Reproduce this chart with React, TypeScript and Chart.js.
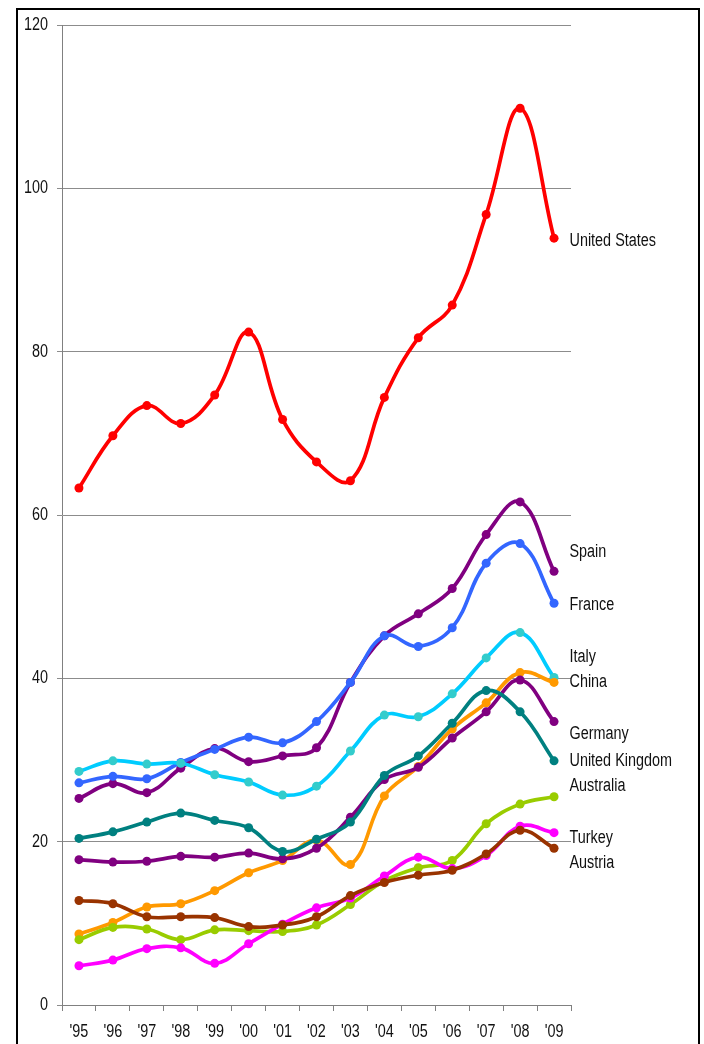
import React, { useEffect, useRef } from "react";
import { Chart, registerables } from "chart.js";

Chart.register(...registerables);

const years = ["'95", "'96", "'97", "'98", "'99", "'00", "'01", "'02", "'03", "'04", "'05", "'06", "'07", "'08", "'09"];

const unitedStates = [63.3, 69.7, 73.4, 71.2, 74.7, 82.4, 71.7, 66.5, 64.2, 74.4, 81.7, 85.7, 96.8, 109.8, 93.9];
const spain = [25.3, 27.1, 26.0, 29.0, 31.4, 29.8, 30.5, 31.5, 39.5, 45.2, 47.9, 51.0, 57.6, 61.6, 53.1];
const france = [27.2, 28.0, 27.7, 29.7, 31.3, 32.8, 32.1, 34.7, 39.5, 45.2, 43.9, 46.2, 54.1, 56.5, 49.2];
const italy = [28.6, 29.9, 29.5, 29.6, 28.2, 27.3, 25.7, 26.8, 31.1, 35.5, 35.3, 38.1, 42.5, 45.6, 40.1];
const china = [8.7, 10.1, 12.0, 12.4, 14.0, 16.2, 17.7, 20.2, 17.2, 25.6, 29.2, 33.8, 37.0, 40.7, 39.5];
const germany = [17.8, 17.5, 17.6, 18.2, 18.1, 18.6, 17.9, 19.2, 23.0, 27.6, 29.1, 32.7, 35.9, 39.8, 34.7];
const unitedKingdom = [20.4, 21.2, 22.4, 23.5, 22.6, 21.7, 18.8, 20.3, 22.4, 28.1, 30.5, 34.5, 38.5, 35.9, 29.9];
const australia = [8.0, 9.5, 9.3, 8.0, 9.2, 9.1, 9.0, 9.8, 12.3, 15.2, 16.8, 17.7, 22.2, 24.6, 25.5];
const turkey = [4.8, 5.5, 6.9, 7.0, 5.1, 7.5, 9.9, 11.9, 13.1, 15.8, 18.1, 16.7, 18.3, 21.9, 21.1];
const austria = [12.8, 12.4, 10.8, 10.8, 10.7, 9.6, 9.8, 10.8, 13.4, 15.0, 15.9, 16.5, 18.5, 21.4, 19.2];

const seriesNames = ["United States", "Spain", "France", "Italy", "China", "Germany", "United Kingdom", "Australia", "Turkey", "Austria"];
const seriesValues = [unitedStates, spain, france, italy, china, germany, unitedKingdom, australia, turkey, austria];
const lineColors = ["#FF0000", "#800080", "#3366FF", "#00CCFF", "#FF9900", "#800080", "#008080", "#99CC00", "#FF00FF", "#993300"];
const markerColors = ["#FF0000", "#800080", "#3366FF", "#33CCCC", "#FF9900", "#800080", "#008080", "#99CC00", "#FF00FF", "#993300"];
// vertical anchor (in value units) of each end label
const labelAnchors = [93.6, 55.5, 49.0, 42.6, 39.6, 33.2, 29.9, 26.8, 20.5, 17.4];

const FONT = '"Liberation Sans", Arial, sans-serif';
const FONT_SIZE = 18;
const CONDENSE = 0.8;
const TEXT_COLOR = "#111111";

function drawNarrow(ctx: CanvasRenderingContext2D, text: string, x: number, y: number, align: CanvasTextAlign) {
  ctx.save();
  ctx.translate(x, y);
  ctx.scale(CONDENSE, 1);
  ctx.font = `${FONT_SIZE}px ${FONT}`;
  ctx.fillStyle = TEXT_COLOR;
  ctx.textAlign = align;
  ctx.textBaseline = "middle";
  ctx.fillText(text, 0, 0);
  ctx.restore();
}

const framePlugin = {
  id: "frame",
  beforeDraw(chart: any) {
    const ctx = chart.ctx;
    ctx.save();
    ctx.fillStyle = "#ffffff";
    ctx.fillRect(0, 0, chart.width, chart.height);
    ctx.strokeStyle = "#000000";
    ctx.lineWidth = 2;
    ctx.strokeRect(17, 9, 682, 1100);
    ctx.restore();
  },
};

const textPlugin = {
  id: "narrowText",
  afterDraw(chart: any) {
    const ctx = chart.ctx;
    const ys = chart.scales.y;
    const xs = chart.scales.x;
    const area = chart.chartArea;
    ys.ticks.forEach((t: any) => {
      drawNarrow(ctx, String(t.value), area.left - 14, ys.getPixelForValue(t.value), "right");
    });
    years.forEach((lab, i) => {
      drawNarrow(ctx, lab, xs.getPixelForValue(i), area.bottom + 27.5, "center");
    });
    seriesNames.forEach((name, i) => {
      drawNarrow(ctx, name, area.right - 1.5, ys.getPixelForValue(labelAnchors[i]), "left");
    });
  },
};

export default function App() {
  const ref = useRef<HTMLCanvasElement | null>(null);
  useEffect(() => {
    if (!ref.current) return;
    const chart = new Chart(ref.current, {
      type: "line",
      data: {
        labels: years,
        datasets: seriesNames.map((name, i) => ({
          label: name,
          data: seriesValues[i],
          borderColor: lineColors[i],
          backgroundColor: markerColors[i],
          pointBackgroundColor: markerColors[i],
          pointBorderColor: markerColors[i],
          pointRadius: 4.5,
          pointBorderWidth: 0,
          borderWidth: 3.7,
          tension: 0.4,
          fill: false,
          order: -i,
        })),
      },
      options: {
        responsive: false,
        animation: false,
        devicePixelRatio: 1,
        layout: { padding: { left: 0, right: 133, top: 25, bottom: 4 } },
        plugins: { legend: { display: false }, tooltip: { enabled: false } },
        scales: {
          x: {
            type: "category",
            offset: true,
            grid: { display: true, drawOnChartArea: false, drawTicks: true, tickLength: 6, color: "#808080", offset: true },
            border: { display: true, color: "#808080", width: 1 },
            ticks: { display: false, autoSkip: false, maxRotation: 0 },
            afterFit: (s: any) => { s.height = 35; },
          },
          y: {
            min: 0,
            max: 120,
            ticks: { stepSize: 20, display: false },
            grid: { color: "#8c8c8c", tickLength: 5, drawTicks: true },
            border: { display: true, color: "#808080", width: 1 },
            afterFit: (s: any) => { s.width = 62; },
          },
        },
      },
      plugins: [framePlugin, textPlugin],
    });
    return () => chart.destroy();
  }, []);
  return (
    <div style={{ position: "absolute", left: 0, top: 0, width: 704, height: 1044, overflow: "hidden" }}>
      <canvas ref={ref} width={704} height={1044} style={{ display: "block" }} />
    </div>
  );
}
